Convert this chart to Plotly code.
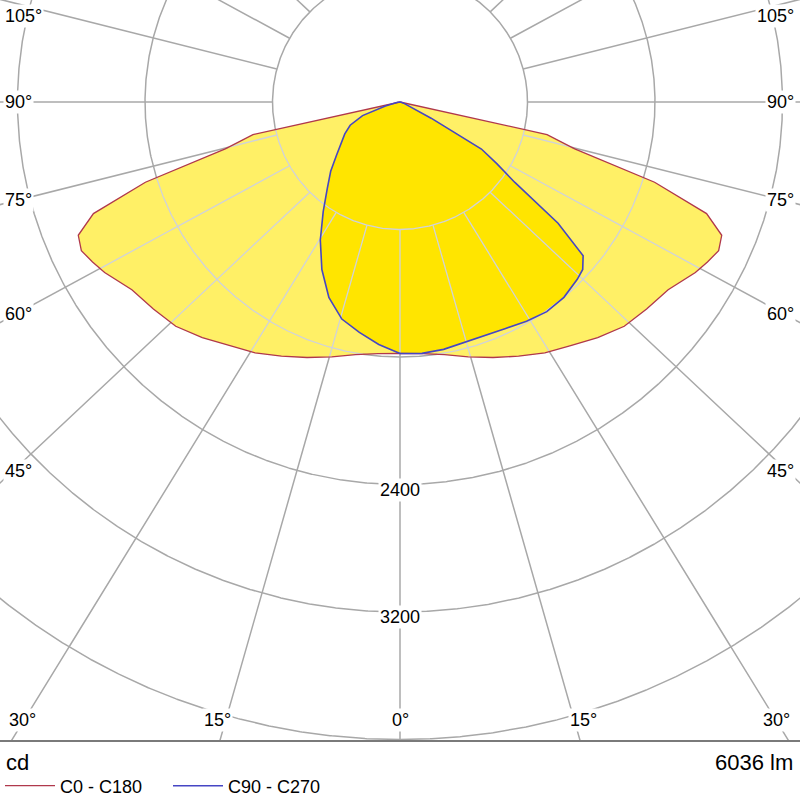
import numpy as np
import plotly.graph_objects as go

# ---------------- data (luminous intensity, cd) ----------------
gamma_c0_c180 = [0, 5, 10, 15, 20, 25, 30, 35, 40, 45, 50, 55, 60, 62.5, 65, 67.5, 70, 72.5, 75, 77.5, 90]
cd_c0 = [1578, 1585, 1610, 1655, 1706, 1760, 1818, 1867, 1930, 1990, 2020, 2054, 2140, 2175, 2206, 2185, 2047, 1675, 1135, 945, 0]
cd_c180 = [1578, 1585, 1610, 1655, 1706, 1760, 1818, 1867, 1930, 1990, 2020, 2054, 2140, 2175, 2206, 2185, 2047, 1675, 1135, 945, 0]

gamma_c90 = [0, 5, 10, 15, 20, 25, 30, 35, 40, 45, 47.5, 50, 52.5, 55, 57.5, 60, 62.5, 65, 70, 80, 90]
cd_c90 = [1578, 1583, 1576, 1564, 1560, 1568, 1588, 1606, 1600, 1573, 1555, 1500, 1250, 880, 720, 590, 220, 80, 30, 8, 0]

gamma_c270 = [0, 5, 10, 15, 20, 25, 30, 35, 40, 45, 50, 55, 60, 65, 70, 75, 80, 85, 90]
cd_c270 = [1578, 1527, 1468, 1410, 1305, 1160, 1000, 840, 710, 615, 520, 450, 400, 345, 250, 95, 40, 15, 0]

circle_cd = [800, 1600, 2400, 3200, 4000, 4800]
ray_deg = list(range(-180, 180, 15))
radial_labels = [2400, 3200]
left_angle_labels = ["105°", "90°", "75°", "60°", "45°"]
bottom_angle_labels = ["30°", "15°", "0°", "15°", "30°"]
right_angle_labels = ["105°", "90°", "75°", "60°", "45°"]
flux_text = "6036 lm"
unit_text = "cd"

# ---------------- geometry / layout ----------------
W, H = 800, 800
PLOT_H = 741
CX, CY = 400, 102
PX_PER_CD = 127.5 / 800.0
RAY_Y_FACTOR = 0.945   # the reference's spokes lean slightly toward the horizontal
x_range = [-CX / PX_PER_CD, (W - CX) / PX_PER_CD]
y_range = [-(PLOT_H - CY) / PX_PER_CD, CY / PX_PER_CD]

FONT = "Liberation Sans, Arial, sans-serif"
LIGHT_FILL = "#fff066"
DARK_FILL = "#ffe500"
RED = "#b0384c"
BLUE = "#4646c4"
GRID_OUT = "#a8a8a8"
GRID_IN = "#d0d2da"


def half(gammas, cds, side):
    g = np.radians(np.array(gammas, float))
    r = np.array(cds, float)
    return side * r * np.sin(g), -r * np.cos(g)


def polygon(g_left, cd_left, g_right, cd_right):
    xl, yl = half(g_left, cd_left, -1)
    xr, yr = half(g_right, cd_right, 1)
    x = np.concatenate([xl, xr[::-1]])
    y = np.concatenate([yl, yr[::-1]])
    return x, y


c0x, c0y = polygon(gamma_c0_c180, cd_c180, gamma_c0_c180, cd_c0)
c9x, c9y = polygon(gamma_c270, cd_c270, gamma_c90, cd_c90)


def inside(px, py, qx, qy):
    res = np.zeros(px.shape, bool)
    n = len(qx)
    j = n - 1
    for i in range(n):
        xi, yi, xj, yj = qx[i], qy[i], qx[j], qy[j]
        dy = (yj - yi) if (yj - yi) != 0 else 1e-12
        cond = ((yi > py) != (yj > py)) & (px < (xj - xi) * (py - yi) / dy + xi)
        res ^= cond
        j = i
    return res


lines = []
for r in circle_cd:
    t = np.linspace(0, 2 * np.pi, 2400)
    lines.append((r * np.sin(t), -r * np.cos(t)))
for gdeg in ray_deg:
    g = np.radians(gdeg)
    r0, r1 = circle_cd[0], 8000.0
    x0, y0 = r0 * np.sin(g), -r0 * np.cos(g)
    x1, y1 = r1 * np.sin(g), -r1 * RAY_Y_FACTOR * np.cos(g)
    s = np.linspace(0, 1, 1400)
    lines.append((x0 + (x1 - x0) * s, y0 + (y1 - y0) * s))

gx_in, gy_in, gx_out, gy_out = [], [], [], []
for lx, ly in lines:
    m = inside(lx, ly, c0x, c0y) | inside(lx, ly, c9x, c9y)
    m_in = m | np.roll(m, 1) | np.roll(m, -1)
    mo = ~m
    m_out = mo | np.roll(mo, 1) | np.roll(mo, -1)
    gx_in += list(np.where(m_in, lx, np.nan)) + [np.nan]
    gy_in += list(np.where(m_in, ly, np.nan)) + [np.nan]
    gx_out += list(np.where(m_out, lx, np.nan)) + [np.nan]
    gy_out += list(np.where(m_out, ly, np.nan)) + [np.nan]

fig = go.Figure()
fig.add_trace(go.Scatter(x=c0x, y=c0y, fill="toself", fillcolor=LIGHT_FILL, mode="lines",
                         line=dict(width=0, color=LIGHT_FILL), hoverinfo="skip", showlegend=False))
fig.add_trace(go.Scatter(x=c9x, y=c9y, fill="toself", fillcolor=DARK_FILL, mode="lines",
                         line=dict(width=0, color=DARK_FILL), hoverinfo="skip", showlegend=False))
fig.add_trace(go.Scatter(x=gx_out, y=gy_out, mode="lines", line=dict(color=GRID_OUT, width=1.5),
                         hoverinfo="skip", showlegend=False, connectgaps=False))
fig.add_trace(go.Scatter(x=gx_in, y=gy_in, mode="lines", line=dict(color=GRID_IN, width=1.3),
                         hoverinfo="skip", showlegend=False, connectgaps=False))
fig.add_trace(go.Scatter(x=np.append(c0x, c0x[0]), y=np.append(c0y, c0y[0]), mode="lines",
                         line=dict(color=RED, width=1.3), name="C0 - C180"))
fig.add_trace(go.Scatter(x=np.append(c9x, c9x[0]), y=np.append(c9y, c9y[0]), mode="lines",
                         line=dict(color=BLUE, width=1.6), name="C90 - C270"))


def px_x(px):
    return px / W


def px_y(py):
    return (PLOT_H - py) / PLOT_H


LBL = dict(size=18, color="black", family=FONT)
ann = []
left_rows = [16, 102, 200, 314, 471]
for txt, row in zip(left_angle_labels, left_rows):
    ann.append(dict(x=px_x(3), y=px_y(row), xref="paper", yref="paper", text=txt, showarrow=False,
                    xanchor="left", yanchor="middle", bgcolor="white", font=LBL))
for txt, row in zip(right_angle_labels, left_rows):
    ann.append(dict(x=px_x(796), y=px_y(row), xref="paper", yref="paper", text=txt, showarrow=False,
                    xanchor="right", yanchor="middle", bgcolor="white", font=LBL))
bottom_cols = [22, 217, 400, 583, 776]
for txt, col in zip(bottom_angle_labels, bottom_cols):
    ann.append(dict(x=px_x(col), y=px_y(720), xref="paper", yref="paper", text=txt, showarrow=False,
                    xanchor="center", yanchor="middle", bgcolor="white", font=LBL))
for v in radial_labels:
    ann.append(dict(x=0, y=-v, xref="x", yref="y", text=str(v), showarrow=False, yshift=-5,
                    xanchor="center", yanchor="middle", bgcolor="white", font=LBL))
ann.append(dict(x=px_x(4), y=px_y(762), xref="paper", yref="paper", text=unit_text, showarrow=False,
                xanchor="left", yanchor="middle", font=dict(size=22, color="black", family=FONT)))
ann.append(dict(x=px_x(795), y=px_y(762), xref="paper", yref="paper", text=flux_text, showarrow=False,
                xanchor="right", yanchor="middle", font=dict(size=22, color="black", family=FONT)))

fig.update_layout(
    width=W, height=H,
    margin=dict(l=0, r=0, t=0, b=H - PLOT_H, autoexpand=False),
    paper_bgcolor="white", plot_bgcolor="white",
    xaxis=dict(range=x_range, visible=False, fixedrange=True),
    yaxis=dict(range=y_range, visible=False, fixedrange=True),
    annotations=ann,
    shapes=[dict(type="line", xref="paper", yref="paper", x0=0, x1=1, y0=0, y1=0,
                 line=dict(color="#7a7a7a", width=2), layer="above")],
    legend=dict(orientation="h", x=0, xanchor="left", y=px_y(786), yanchor="middle",
                font=dict(size=18, color="black", family=FONT), bgcolor="rgba(0,0,0,0)",
                itemwidth=50, entrywidth=103, entrywidthmode="pixels"),
    font=dict(family=FONT),
    showlegend=True,
)

fig.write_html("out.html", config={"displayModeBar": False},
               post_script="document.body.style.margin='0';document.body.style.overflow='hidden';")
